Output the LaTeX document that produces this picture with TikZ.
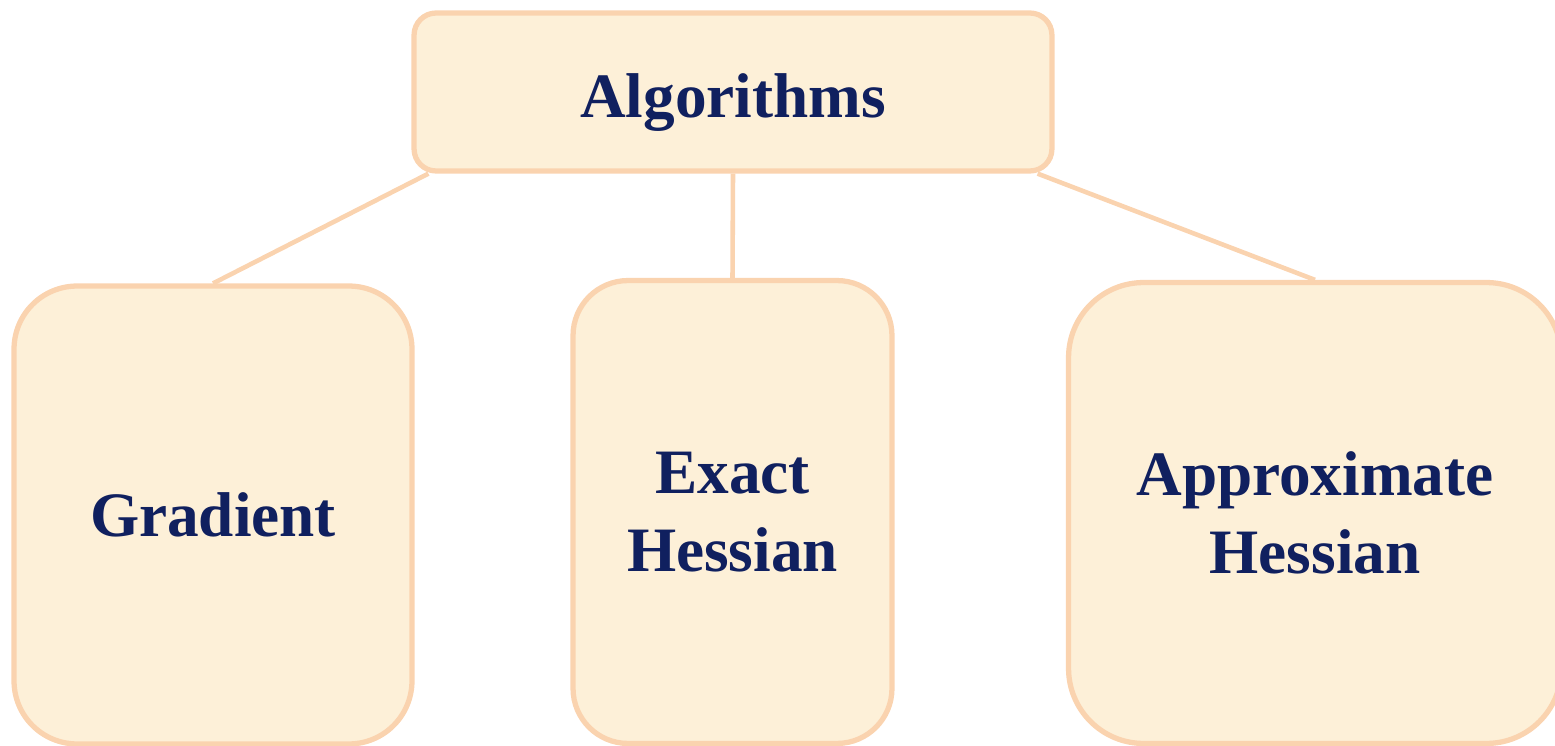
\documentclass[tikz,border=0pt]{standalone}
\usepackage{fontspec}
\setmainfont{Liberation Serif}
\usepackage{xcolor}
\definecolor{boxfill}{HTML}{FDF0D8}
\definecolor{boxline}{HTML}{FAD3AF}
\definecolor{navy}{HTML}{10205F}

\begin{document}
\begin{tikzpicture}[
  x=0.02cm,y=-0.02cm,
  box/.style={draw=boxline,fill=boxfill,line width=3pt,text=navy,
    font=\fontsize{36}{44}\selectfont\bfseries,align=center,inner sep=0pt},
  link/.style={boxline,line width=2.6pt}]

  \useasboundingbox (0,0) rectangle (1555,746);

  % top box
  \node[box,minimum width=12.76cm,minimum height=3.16cm,
    rounded corners=0.44cm,text height=1.04cm,text depth=0pt]
    (alg) at (733,92) {Algorithms};

  % the three families
  \node[box,minimum width=7.96cm,minimum height=9.16cm,
    rounded corners=1.26cm] (grad) at (213,515) {Gradient};
  \node[box,minimum width=6.38cm,minimum height=9.26cm,
    rounded corners=1.1cm] (exact) at (732.5,512) {Exact\\Hessian};
  \node[box,minimum width=9.86cm,minimum height=9.22cm,
    rounded corners=1.5cm] (approx) at (1315,513) {Approximate\\Hessian};

  \draw[link] (grad.north) -- ([xshift=0.34cm]alg.south west);
  \draw[link] (exact.north) -- (alg.south);
  \draw[link] (approx.north) -- ([xshift=-0.34cm]alg.south east);
\end{tikzpicture}
\end{document}
